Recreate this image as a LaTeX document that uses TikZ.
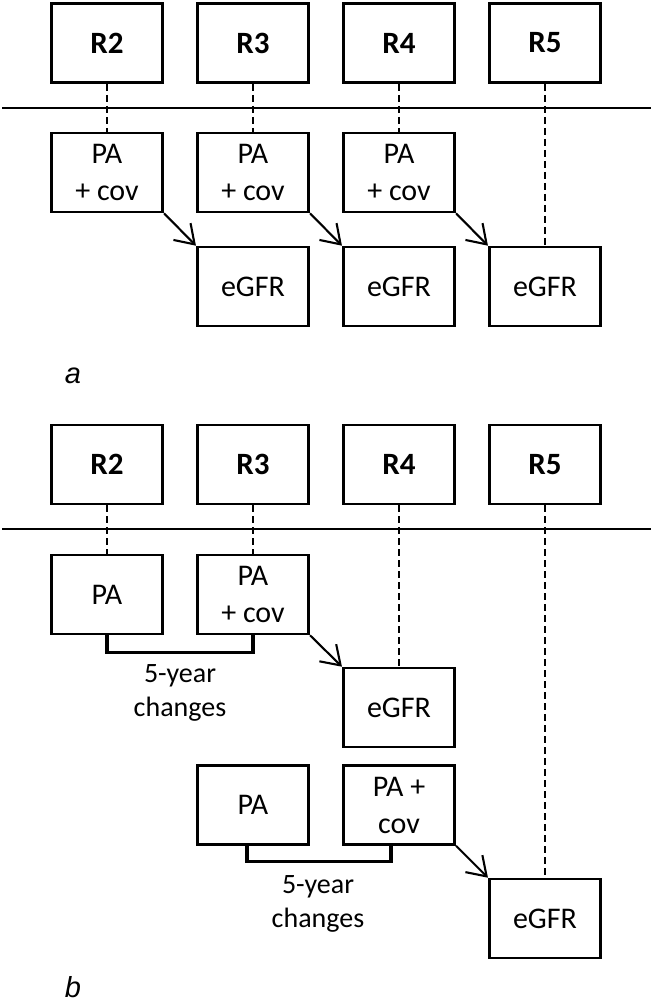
\documentclass[tikz,border=0pt]{standalone}
\usepackage{fontspec}
\setmainfont{Carlito}
\newfontfamily\labfont{Liberation Sans}
\usetikzlibrary{arrows.meta}
\begin{document}
\begin{tikzpicture}[x=1pt,y=-1pt,
  box/.style={draw,line width=2.6pt,minimum width=111.5pt,minimum height=79pt,inner sep=0pt,font=\fontsize{30}{37}\selectfont,align=center},
  rbox/.style={box,font=\fontsize{31}{37}\selectfont\bfseries},
  dline/.style={line width=2.1pt,dash pattern=on 7pt off 4pt},
  hline/.style={line width=2.6pt},
  arr/.style={line width=2.1pt,-{Straight Barb[length=18pt,width=24pt,line width=2.1pt]}},
  brk/.style={line width=3.2pt},
  lab/.style={font=\fontsize{28}{34}\selectfont,align=center},
  plab/.style={font=\labfont\itshape\fontsize{29}{34}\selectfont}]
\useasboundingbox (0,0) rectangle (653,1005);
% ---------- panel a ----------
\node[rbox] (aR2) at (107,43) {R2};
\node[rbox] (aR3) at (253,43) {R3};
\node[rbox] (aR4) at (399,43) {R4};
\node[rbox] (aR5) at (545,43) {R5};
\coordinate (aL) at (2,108);
\coordinate (aR) at (651,108);
\draw[hline] (aL) -- (aR);
\node[box] (aP2) at (107,172.5) {PA\\+ cov};
\node[box] (aP3) at (253,172.5) {PA\\+ cov};
\node[box] (aP4) at (399,172.5) {PA\\+ cov};
\node[box] (aE3) at (253,286.5) {eGFR};
\node[box] (aE4) at (399,286.5) {eGFR};
\node[box] (aE5) at (545,286.5) {eGFR};
\draw[dline] (aR2.south) -- (aP2.north);
\draw[dline] (aR3.south) -- (aP3.north);
\draw[dline] (aR4.south) -- (aP4.north);
\draw[dline] (aR5.south) -- (aE5.north);
\draw[arr] (aP2.south east) -- (aE3.north west);
\draw[arr] (aP3.south east) -- (aE4.north west);
\draw[arr] (aP4.south east) -- (aE5.north west);
\node[plab] (la) at (73,376) {a};
% ---------- panel b ----------
\node[rbox] (bR2) at (107,464.5) {R2};
\node[rbox] (bR3) at (253,464.5) {R3};
\node[rbox] (bR4) at (399,464.5) {R4};
\node[rbox] (bR5) at (545,464.5) {R5};
\coordinate (bL) at (2,529);
\coordinate (bR) at (651,529);
\draw[hline] (bL) -- (bR);
\node[box] (bP2) at (107,594.5) {PA};
\node[box] (bP3) at (253,594.5) {PA\\+ cov};
\node[box] (bE4) at (399,707.5) {eGFR};
\node[box] (bQ3) at (253,805) {PA};
\node[box] (bQ4) at (399,805) {PA +\\cov};
\node[box] (bE5) at (545,918.5) {eGFR};
\draw[dline] (bR2.south) -- (bP2.north);
\draw[dline] (bR3.south) -- (bP3.north);
\draw[dline] (bR4.south) -- (bE4.north);
\draw[dline] (bR5.south) -- (bE5.north);
\draw[arr] (bP3.south east) -- (bE4.north west);
\draw[arr] (bQ4.south east) -- (bE5.north west);
\draw[brk] (bP2.south) -- ++(0,17) -| (bP3.south);
\draw[brk] ([xshift=-6pt]bQ3.south) -- ++(0,16) -| ([xshift=-8pt]bQ4.south);
\node[lab] (c1) at (180,693) {5-year\\changes};
\node[lab] (c2) at (318,904) {5-year\\changes};
\node[plab] (lb) at (73,987) {b};
\end{tikzpicture}
\end{document}
